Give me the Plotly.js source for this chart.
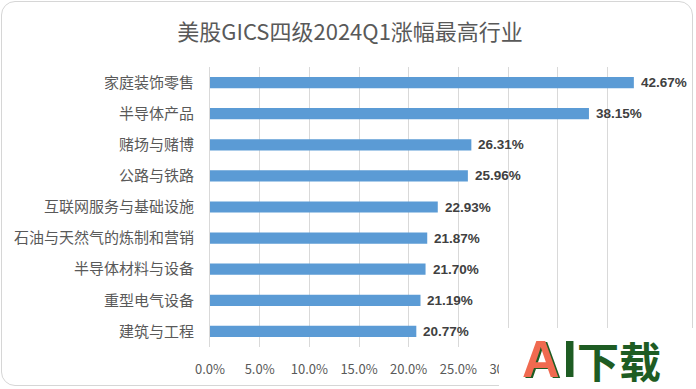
<!DOCTYPE html>
<html>
<head>
<meta charset="utf-8">
<script src="https://cdn.plot.ly/plotly-3.0.1.min.js"></script>
<style>
html,body{margin:0;padding:0;background:#fff;}
#wrap{position:relative;width:696px;height:389px;overflow:hidden;}
#frame{position:absolute;left:1px;top:1px;width:690px;height:383px;border:1.5px solid #d6d6d6;border-radius:14px;box-sizing:content-box;}
#chart{position:absolute;left:0;top:0;width:696px;height:389px;}
#wm{position:absolute;left:499px;top:328px;width:197px;height:61px;background:#fff;}
#wmtext{position:absolute;left:23px;top:9px;line-height:44px;white-space:nowrap;font-weight:bold;color:#1e5c23;}
#wmA{font-family:"Liberation Sans",Arial,sans-serif;font-size:52px;color:#f06a50;text-shadow:2px 1px 0 #1e5c23;vertical-align:top;}
#wmI{font-family:"Liberation Sans",Arial,sans-serif;font-size:52px;vertical-align:top;margin-left:3px;}
#wmCJK{font-family:"Noto Sans CJK SC",sans-serif;font-size:42px;vertical-align:top;position:relative;top:1px;}
</style>
</head>
<body>
<div id="wrap"><div id="frame"></div><div id="chart"></div>
<div id="wm"><div id="wmtext"><span id="wmA">A</span><span id="wmI">I</span><span id="wmCJK">下载</span></div></div>
</div>
<script>
const categories = ["家庭装饰零售","半导体产品","赌场与赌博","公路与铁路","互联网服务与基础设施","石油与天然气的炼制和营销","半导体材料与设备","重型电气设备","建筑与工程"];
const values = [42.67, 38.15, 26.31, 25.96, 22.93, 21.87, 21.70, 21.19, 20.77];
const tickVals = [0,5,10,15,20,25,30,35,40,45];
const tickText = ["0.0%","5.0%","10.0%","15.0%","20.0%","25.0%","30.0%","35.0%","40.0%","45.0%"];
const titleText = "美股GICS四级2024Q1涨幅最高行业";

const cjk = '"Noto Sans CJK SC", "Microsoft YaHei", sans-serif';

const trace = {
  type: 'bar',
  orientation: 'h',
  x: values,
  y: categories,
  marker: {color: '#5b9bd5'},
  hoverinfo: 'none'
};

const labelAnns = values.map((v, i) => ({
  x: v, y: categories[i], xref: 'x', yref: 'y',
  text: v.toFixed(2) + '%', showarrow: false,
  xanchor: 'left', yanchor: 'middle', xshift: 5,
  font: {family: '"Liberation Sans", Arial, sans-serif', size: 13.5, color: '#404040', weight: 'bold'}
}));

const layout = {
  width: 696, height: 389,
  margin: {l: 210, r: 39, t: 67, b: 42, pad: 0},
  paper_bgcolor: 'rgba(0,0,0,0)',
  plot_bgcolor: 'rgba(0,0,0,0)',
  showlegend: false,
  bargap: 0.64,
  title: {text: titleText, x: 0.503, xref: 'container', xanchor: 'center', y: 0.918, yanchor: 'middle',
          font: {family: cjk, size: 22, color: '#595959'}},
  xaxis: {
    range: [0, 45], tickvals: tickVals, ticktext: tickText,
    showgrid: true, gridcolor: '#d9d9d9', gridwidth: 1,
    zeroline: false, showline: false, ticks: '',
    ticklabelstandoff: 13,
    tickfont: {family: cjk, size: 13, color: '#595959'},
    fixedrange: true
  },
  yaxis: {
    autorange: 'reversed', type: 'category',
    showgrid: false, zeroline: false, showline: true, linecolor: '#d9d9d9', linewidth: 1,
    ticks: '', ticklabelstandoff: 12,
    tickfont: {family: cjk, size: 15, color: '#595959'},
    fixedrange: true
  },
  annotations: labelAnns
};

Plotly.newPlot('chart', [trace], layout, {displayModeBar: false, staticPlot: true});
</script>
</body>
</html>
